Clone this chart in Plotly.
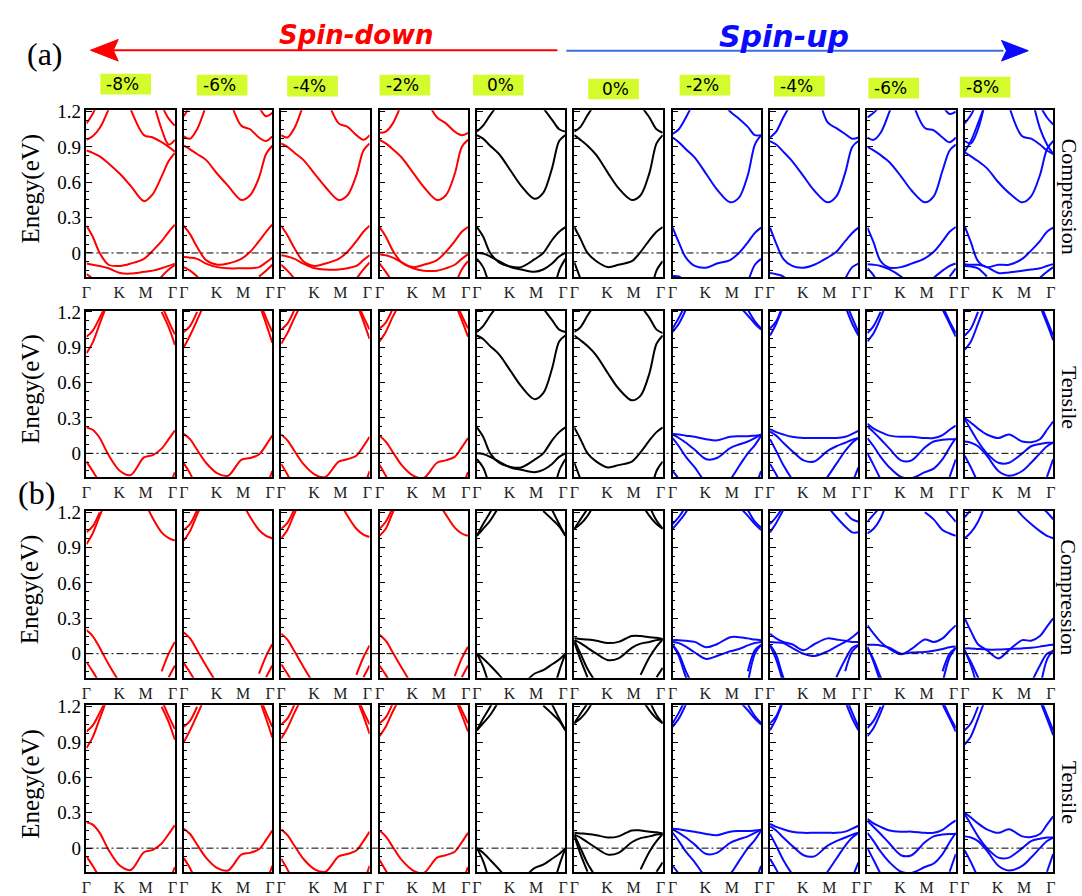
import plotly.graph_objects as go

N = None
W, H = 1082, 896

# ---------------- data ----------------
k_grid = [0.0, 0.07, 0.15, 0.25, 0.38, 0.5, 0.65, 0.75, 0.85, 0.93, 1.0]
k_tick_vals = [0.0, 0.37, 0.67, 0.975]
k_tick_text = ["Γ", "K", "M", "Γ"]
energy_tick_vals = [0, 0.3, 0.6, 0.9, 1.2]
energy_tick_text = ["0", "0.3", "0.6", "0.9", "1.2"]
strain_labels = ["-8%", "-6%", "-4%", "-2%", "0%", "0%", "-2%", "-4%", "-6%", "-8%"]
row_side_labels = ["Compression", "Tensile", "Compression", "Tensile"]
spin_titles = ["Spin-down", "Spin-up"]
panel_labels = ["(a)", "(b)"]

# (a) compression
r1c1 = [[0.87, 0.85, 0.82, 0.76, 0.67, 0.57, 0.44, 0.50, 0.65, 0.78, 0.85],
        [1.10, 1.18, 1.32, 1.55, N, N, N, N, N, N, N],
        [0.96, 0.99, 1.06, 1.22, 1.5, N, N, N, N, N, N],
        [N, N, N, N, 1.5, 1.22, 1.0, 0.98, 0.94, 0.9, 0.86],
        [N, N, N, N, N, N, N, 1.3, 1.05, 0.92, 0.96],
        [N, N, N, N, N, N, N, N, 1.25, 1.14, 1.08],
        [0.23, 0.14, 0.0, -0.10, -0.11, -0.09, -0.05, 0.02, 0.10, 0.18, 0.24],
        [-0.09, -0.10, -0.11, -0.13, -0.17, -0.175, -0.16, -0.15, -0.13, -0.11, -0.09],
        [-0.18, -0.22, -0.35, N, N, N, N, -0.3, -0.2, -0.14, -0.10]]
r1c2 = [[0.91, 0.88, 0.84, 0.79, 0.67, 0.57, 0.45, 0.49, 0.64, 0.84, 0.91],
        [0.99, 0.97, 1.05, 1.25, N, N, N, N, N, N, N],
        [1.16, 1.25, N, N, N, N, N, N, N, N, N],
        [N, N, N, N, N, 1.35, 1.08, 1.05, 0.98, 0.95, 0.99],
        [N, N, N, N, N, N, N, N, 1.24, 1.16, 1.19],
        [0.23, 0.16, 0.05, -0.06, -0.10, -0.09, -0.05, 0.01, 0.10, 0.18, 0.24],
        [-0.035, -0.04, -0.05, -0.09, -0.12, -0.13, -0.13, -0.13, -0.12, -0.08, -0.04],
        [-0.12, -0.15, -0.2, -0.3, N, N, N, N, -0.2, -0.15, -0.1]]
r1c3 = [[0.93, 0.90, 0.85, 0.79, 0.67, 0.56, 0.45, 0.49, 0.66, 0.87, 0.93],
        [1.0, 0.98, 1.06, 1.26, N, N, N, N, N, N, N],
        [N, N, N, N, N, 1.35, 1.1, 1.07, 1.0, 0.96, 1.0],
        [0.23, 0.15, 0.04, -0.07, -0.11, -0.09, -0.05, 0.01, 0.10, 0.18, 0.23],
        [-0.02, -0.03, -0.05, -0.09, -0.13, -0.14, -0.14, -0.13, -0.11, -0.06, -0.02],
        [-0.1, -0.15, -0.22, -0.35, N, N, N, N, -0.22, -0.14, -0.08]]
r1c4 = [[0.96, 0.93, 0.88, 0.81, 0.68, 0.56, 0.45, 0.49, 0.67, 0.9, 0.96],
        [1.02, 1.03, 1.1, 1.27, N, N, N, N, N, N, N],
        [N, N, N, N, N, 1.35, 1.15, 1.1, 1.03, 1.0, 1.02],
        [0.22, 0.14, 0.02, -0.08, -0.12, -0.1, -0.06, 0.01, 0.10, 0.18, 0.22],
        [-0.01, -0.02, -0.04, -0.08, -0.13, -0.15, -0.15, -0.13, -0.1, -0.05, -0.01],
        [-0.09, -0.16, -0.25, N, N, N, N, N, -0.28, -0.14, -0.07]]
r1c5 = [[1.0, 0.97, 0.91, 0.84, 0.70, 0.57, 0.46, 0.51, 0.72, 0.95, 1.0],
        [1.03, 1.08, 1.17, 1.27, N, N, N, N, N, N, N],
        [N, N, N, N, N, N, N, 1.23, 1.13, 1.05, 1.03],
        [0.22, 0.14, 0.0, -0.08, -0.115, -0.12, -0.055, 0.0, 0.11, 0.18, 0.22],
        [0.0, -0.005, -0.03, -0.07, -0.12, -0.14, -0.16, -0.14, -0.09, -0.03, 0.0],
        [-0.05, -0.12, -0.3, N, N, N, N, N, -0.4, -0.15, -0.05]]
r1c6 = [[1.0, 0.96, 0.91, 0.83, 0.68, 0.55, 0.45, 0.49, 0.68, 0.93, 1.0],
        [1.03, 1.07, 1.17, 1.28, N, N, N, N, N, N, N],
        [N, N, N, N, N, N, N, 1.25, 1.15, 1.05, 1.02],
        [0.22, 0.12, 0.0, -0.07, -0.12, -0.10, -0.07, 0.01, 0.11, 0.18, 0.22],
        [-0.08, -0.22, -0.4, N, N, N, N, N, -0.4, -0.15, -0.07]]
r1c7 = [[0.98, 0.94, 0.88, 0.81, 0.67, 0.54, 0.43, 0.47, 0.66, 0.92, 1.0],
        [1.01, 1.05, 1.15, 1.3, N, N, N, N, N, N, N],
        [N, N, N, N, N, 1.35, 1.2, 1.14, 1.07, 1.0, 1.0],
        [0.215, 0.09, -0.04, -0.11, -0.125, -0.09, -0.06, 0.0, 0.09, 0.17, 0.215],
        [-0.195, -0.2, -0.25, N, N, N, N, N, -0.25, -0.1, -0.05]]
r1c8 = [[0.95, 0.92, 0.86, 0.78, 0.65, 0.53, 0.43, 0.48, 0.68, 0.9, 0.95],
        [0.98, 1.03, 1.15, 1.28, N, N, N, N, N, N, N],
        [N, N, N, N, N, 1.5, 1.11, 1.06, 1.01, 0.97, 0.98],
        [0.215, 0.08, -0.05, -0.11, -0.125, -0.10, -0.04, 0.01, 0.10, 0.17, 0.215],
        [-0.17, -0.18, -0.2, -0.3, N, N, N, N, -0.22, -0.12, -0.09]]
r1c9 = [[0.9, 0.87, 0.83, 0.77, 0.65, 0.53, 0.43, 0.48, 0.70, 0.87, 0.92],
        [0.98, 0.96, 1.02, 1.2, 1.45, N, N, N, N, N, N],
        [1.15, 1.19, 1.25, N, N, N, N, N, N, N, N],
        [N, N, N, N, N, 1.3, 1.06, 1.04, 0.98, 0.94, 0.98],
        [N, N, N, N, N, N, N, N, 1.25, 1.18, 1.2],
        [0.215, 0.09, -0.07, -0.125, -0.12, -0.09, -0.045, 0.01, 0.10, 0.18, 0.22],
        [-0.095, -0.10, -0.11, -0.14, -0.2, -0.28, N, -0.21, -0.15, -0.11, -0.09],
        [-0.13, -0.19, -0.3, N, N, N, N, N, N, -0.2, -0.13]]
r1c10 = [[0.855, 0.82, 0.78, 0.72, 0.60, 0.51, 0.43, 0.48, 0.66, 0.88, 0.95],
         [0.95, 0.93, 1.05, 1.35, N, N, N, N, N, N, N],
         [1.1, 1.17, 1.3, N, N, N, N, N, N, N, N],
         [0.86, 0.95, 1.1, 1.3, N, N, N, N, N, N, N],
         [N, N, N, N, 1.7, 1.25, 0.99, 0.97, 0.92, 0.87, 0.84],
         [N, N, N, N, N, N, N, 1.35, 1.06, 0.92, 0.84],
         [N, N, N, N, N, N, N, N, 1.25, 1.15, 1.09],
         [0.225, 0.09, -0.07, -0.12, -0.1, -0.1, -0.05, 0.02, 0.10, 0.18, 0.215],
         [-0.095, -0.1, -0.1, -0.12, -0.17, -0.165, -0.15, -0.14, -0.13, -0.11, -0.095],
         [-0.11, -0.115, -0.13, -0.2, N, N, N, N, -0.21, -0.16, -0.12]]

# (a) tensile
r2c1 = [[0.85, 0.94, 1.1, 1.3, N, N, N, N, N, N, N],
        [0.99, 1.04, 1.15, 1.3, N, N, N, N, N, N, N],
        [N, N, N, N, N, N, N, N, 1.2, 1.07, 0.92],
        [N, N, N, N, N, N, N, N, 1.26, 1.12, 1.01],
        [0.22, 0.2, 0.13, -0.015, -0.15, -0.185, -0.035, -0.015, 0.04, 0.12, 0.195],
        [-0.07, -0.15, -0.25, N, N, N, N, N, N, -0.3, -0.16]]
r2c2 = [[0.9, 1.0, 1.13, 1.3, N, N, N, N, N, N, N],
        [1.03, 1.08, 1.2, N, N, N, N, N, N, N, N],
        [N, N, N, N, N, N, N, N, 1.27, 1.1, 0.94],
        [N, N, N, N, N, N, N, N, 1.3, 1.15, 1.03],
        [0.165, 0.12, 0.03, -0.08, -0.17, -0.19, -0.055, -0.04, -0.01, 0.07, 0.15],
        [-0.085, -0.17, -0.3, N, N, N, N, N, N, -0.3, -0.15]]
r2c3 = [[0.93, 1.02, 1.15, 1.3, N, N, N, N, N, N, N],
        [1.05, 1.1, 1.22, N, N, N, N, N, N, N, N],
        [N, N, N, N, N, N, N, N, 1.28, 1.12, 0.97],
        [N, N, N, N, N, N, N, N, 1.3, 1.16, 1.05],
        [0.16, 0.11, 0.02, -0.09, -0.18, -0.2, -0.07, -0.05, -0.02, 0.06, 0.14],
        [-0.09, -0.18, -0.3, N, N, N, N, N, N, -0.3, -0.15]]
r2c4 = [[0.95, 1.03, 1.16, 1.3, N, N, N, N, N, N, N],
        [1.06, 1.11, 1.23, N, N, N, N, N, N, N, N],
        [N, N, N, N, N, N, N, N, 1.28, 1.13, 0.99],
        [N, N, N, N, N, N, N, N, 1.3, 1.17, 1.06],
        [0.15, 0.1, 0.01, -0.1, -0.19, -0.21, -0.08, -0.06, -0.03, 0.05, 0.13],
        [-0.1, -0.19, -0.3, N, N, N, N, N, N, -0.3, -0.16]]
r2c5 = r1c5
r2c6 = r1c6
r2c7 = [[1.03, 1.1, 1.22, 1.4, N, N, N, N, N, N, N],
        [1.06, 1.15, 1.27, N, N, N, N, N, N, N, N],
        [N, N, N, N, N, N, N, 1.25, 1.17, 1.1, 1.05],
        [N, N, N, N, N, N, N, N, 1.22, 1.12, 1.06],
        [0.165, 0.16, 0.15, 0.14, 0.12, 0.11, 0.14, 0.145, 0.145, 0.15, 0.155],
        [0.16, 0.13, 0.09, 0.03, -0.05, -0.04, 0.045, 0.075, 0.1, 0.13, 0.16],
        [0.13, 0.06, -0.03, -0.12, -0.25, -0.3, -0.22, -0.11, 0.0, 0.07, 0.15],
        [-0.15, -0.22, -0.35, N, N, N, N, N, N, -0.3, -0.15]]
r2c8 = [[1.0, 1.1, 1.25, N, N, N, N, N, N, N, N],
        [1.06, 1.12, 1.27, N, N, N, N, N, N, N, N],
        [N, N, N, N, N, N, N, N, 1.25, 1.1, 1.0],
        [N, N, N, N, N, N, N, N, 1.3, 1.15, 1.03],
        [0.205, 0.18, 0.16, 0.14, 0.13, 0.13, 0.13, 0.13, 0.14, 0.165, 0.19],
        [0.185, 0.15, 0.09, 0.02, -0.06, -0.07, 0.02, 0.06, 0.09, 0.115, 0.13],
        [0.12, 0.02, -0.1, -0.22, -0.35, -0.35, -0.2, -0.09, 0.02, 0.09, 0.13],
        [-0.09, -0.18, -0.3, N, N, N, N, N, N, -0.25, -0.12]]
r2c9 = [[0.95, 1.02, 1.15, 1.35, N, N, N, N, N, N, N],
        [1.02, 1.08, 1.2, N, N, N, N, N, N, N, N],
        [N, N, N, N, N, N, N, N, 1.22, 1.1, 0.99],
        [N, N, N, N, N, N, N, N, 1.25, 1.12, 1.02],
        [0.25, 0.21, 0.18, 0.15, 0.14, 0.14, 0.13, 0.13, 0.155, 0.2, 0.235],
        [0.23, 0.18, 0.12, 0.04, -0.06, -0.06, 0.05, 0.1, 0.115, 0.12, 0.12],
        [0.13, 0.06, -0.03, -0.12, -0.2, -0.21, -0.16, -0.13, -0.05, 0.05, 0.13],
        [0.0, -0.1, -0.22, N, N, N, N, N, N, -0.2, -0.05]]
r2c10 = [[0.88, 0.95, 1.1, 1.3, N, N, N, N, N, N, N],
         [1.0, 1.06, 1.2, N, N, N, N, N, N, N, N],
         [N, N, N, N, N, N, N, N, 1.25, 1.1, 0.96],
         [N, N, N, N, N, N, N, N, 1.28, 1.13, 1.0],
         [0.3, 0.26, 0.21, 0.16, 0.13, 0.16, 0.1, 0.095, 0.12, 0.2, 0.27],
         [0.29, 0.2, 0.1, 0.0, -0.08, -0.08, 0.0, 0.06, 0.08, 0.09, 0.09],
         [0.1, 0.09, 0.06, -0.02, -0.15, -0.19, -0.15, -0.08, 0.0, 0.06, 0.09],
         [-0.02, -0.12, -0.25, N, N, N, N, N, N, -0.2, -0.05]]

# (b) compression
r3c1 = [[0.93, 1.02, 1.17, 1.35, N, N, N, N, N, N, N],
        [1.03, 1.08, 1.2, N, N, N, N, N, N, N, N],
        [N, N, N, N, N, N, 1.3, 1.15, 1.03, 0.98, 0.96],
        [0.2, 0.15, 0.05, -0.09, -0.25, N, N, N, -0.15, 0.0, 0.1],
        [-0.07, -0.15, -0.25, N, N, N, N, N, N, -0.2, -0.1]]
r3c2 = [[0.96, 1.04, 1.18, 1.35, N, N, N, N, N, N, N],
        [1.05, 1.1, 1.22, N, N, N, N, N, N, N, N],
        [N, N, N, N, N, N, 1.3, 1.16, 1.05, 1.0, 0.98],
        [0.18, 0.13, 0.03, -0.1, -0.26, N, N, N, -0.17, -0.02, 0.08],
        [-0.08, -0.16, -0.26, N, N, N, N, N, N, -0.2, -0.1]]
r3c3 = [[0.98, 1.05, 1.19, 1.35, N, N, N, N, N, N, N],
        [1.06, 1.11, 1.23, N, N, N, N, N, N, N, N],
        [N, N, N, N, N, N, 1.3, 1.17, 1.06, 1.01, 0.99],
        [0.17, 0.12, 0.02, -0.11, -0.27, N, N, N, -0.18, -0.03, 0.07],
        [-0.09, -0.17, -0.27, N, N, N, N, N, N, -0.2, -0.1]]
r3c4 = [[1.0, 1.06, 1.2, 1.35, N, N, N, N, N, N, N],
        [1.06, 1.12, 1.24, N, N, N, N, N, N, N, N],
        [N, N, N, N, N, N, 1.3, 1.18, 1.07, 1.02, 1.0],
        [0.16, 0.11, 0.01, -0.12, -0.28, N, N, N, -0.19, -0.04, 0.06],
        [-0.1, -0.18, -0.28, N, N, N, N, N, N, -0.2, -0.1]]
r3c5 = [[1.0, 1.1, 1.2, 1.35, N, N, N, N, N, N, N],
        [1.0, 1.06, 1.13, 1.25, N, N, N, N, N, N, N],
        [N, N, N, N, N, N, N, 1.21, 1.14, 1.08, 1.0],
        [N, N, N, N, N, N, N, N, 1.22, 1.1, 1.0],
        [0.0, -0.04, -0.1, -0.18, -0.3, N, N, N, N, N, N],
        [0.0, -0.11, -0.3, N, N, N, N, N, N, N, N],
        [N, N, N, N, N, -0.28, -0.17, -0.14, -0.09, -0.05, 0.0],
        [N, N, N, N, N, N, N, N, -0.35, -0.15, 0.0]]
r3c6 = [[1.06, 1.14, 1.23, N, N, N, N, N, N, N, N],
        [1.06, 1.1, 1.17, 1.3, N, N, N, N, N, N, N],
        [N, N, N, N, N, N, N, 1.28, 1.17, 1.1, 1.06],
        [N, N, N, N, N, N, N, N, 1.25, 1.13, 1.06],
        [0.13, 0.125, 0.12, 0.11, 0.09, 0.1, 0.15, 0.15, 0.14, 0.135, 0.125],
        [0.115, 0.09, 0.05, 0.0, -0.055, -0.04, 0.05, 0.085, 0.1, 0.115, 0.125],
        [0.115, 0.0, -0.13, -0.25, N, N, N, -0.18, -0.03, 0.06, 0.12],
        [0.1, -0.05, -0.2, N, N, N, N, N, N, -0.2, -0.12]]
r3c7 = [[1.06, 1.12, 1.2, 1.35, N, N, N, N, N, N, N],
        [1.1, 1.16, 1.25, N, N, N, N, N, N, N, N],
        [N, N, N, N, N, N, N, 1.25, 1.17, 1.1, 1.05],
        [N, N, N, N, N, N, N, N, 1.22, 1.12, 1.07],
        [0.115, 0.115, 0.11, 0.1, 0.055, 0.08, 0.14, 0.14, 0.13, 0.12, 0.115],
        [0.1, 0.09, 0.06, 0.01, -0.045, -0.02, 0.02, 0.04, 0.07, 0.09, 0.1],
        [0.075, 0.0, -0.15, -0.3, N, N, N, N, -0.15, 0.03, 0.075],
        [0.075, -0.02, -0.2, -0.35, N, N, N, N, -0.25, 0.0, 0.075]]
r3c8 = [[1.03, 1.11, 1.22, N, N, N, N, N, N, N, N],
        [1.1, 1.16, 1.25, N, N, N, N, N, N, N, N],
        [N, N, N, N, N, N, 1.25, 1.16, 1.08, 1.03, 1.03],
        [N, N, N, N, N, N, N, N, 1.2, 1.14, 1.12],
        [0.17, 0.13, 0.1, 0.08, 0.03, 0.08, 0.13, 0.12, 0.11, 0.1, 0.1],
        [0.1, 0.095, 0.09, 0.05, 0.0, -0.02, 0.02, 0.06, 0.1, 0.14, 0.185],
        [0.075, -0.01, -0.2, -0.35, N, N, N, -0.2, -0.05, 0.05, 0.075],
        [0.07, -0.05, -0.25, N, N, N, N, N, -0.15, 0.02, 0.07]]
r3c9 = [[1.12, 1.18, 1.25, N, N, N, N, N, N, N, N],
        [1.02, 1.06, 1.15, 1.35, N, N, N, N, N, N, N],
        [N, N, N, N, N, N, 1.2, 1.14, 1.05, 1.02, 1.0],
        [N, N, N, N, N, N, N, N, 1.25, 1.18, 1.12],
        [0.24, 0.17, 0.1, 0.04, -0.005, 0.04, 0.12, 0.1, 0.13, 0.19, 0.24],
        [0.075, 0.075, 0.07, 0.05, 0.0, 0.01, 0.015, 0.025, 0.04, 0.055, 0.06],
        [0.045, -0.05, -0.2, -0.35, N, N, N, N, -0.15, 0.0, 0.05],
        [0.06, -0.07, -0.25, N, N, N, N, N, -0.25, -0.03, 0.05]]
r3c10 = [[1.16, 1.22, 1.3, N, N, N, N, N, N, N, N],
         [0.98, 1.03, 1.12, 1.3, N, N, N, N, N, N, N],
         [N, N, N, N, N, 1.3, 1.17, 1.1, 1.04, 1.0, 0.98],
         [N, N, N, N, N, N, N, N, 1.25, 1.2, 1.14],
         [0.3, 0.19, 0.08, 0.03, -0.04, 0.03, 0.115, 0.11, 0.15, 0.23, 0.3],
         [0.045, 0.045, 0.04, 0.035, 0.035, 0.04, 0.045, 0.05, 0.06, 0.07, 0.075],
         [0.02, -0.07, -0.2, -0.35, N, N, N, -0.25, -0.1, 0.0, 0.02],
         [0.03, -0.1, -0.3, N, N, N, N, N, -0.3, -0.05, 0.03]]

# (b) tensile (same band sets as the panels they repeat)
r4c1, r4c2, r4c3, r4c4 = r2c1, r2c2, r2c3, r2c4
r4c5, r4c6 = r3c5, r3c6
r4c7, r4c8, r4c9, r4c10 = r2c7, r2c8, r2c9, r2c10

panels = [
    [r1c1, r1c2, r1c3, r1c4, r1c5, r1c6, r1c7, r1c8, r1c9, r1c10],
    [r2c1, r2c2, r2c3, r2c4, r2c5, r2c6, r2c7, r2c8, r2c9, r2c10],
    [r3c1, r3c2, r3c3, r3c4, r3c5, r3c6, r3c7, r3c8, r3c9, r3c10],
    [r4c1, r4c2, r4c3, r4c4, r4c5, r4c6, r4c7, r4c8, r4c9, r4c10],
]
column_colors = ["#ff0000"] * 4 + ["#000000"] * 2 + ["#0a0aff"] * 4

# ---------------- layout geometry (pixels) ----------------
col_left = [82, 180, 278, 377, 475, 573, 672, 770, 868, 966]
panel_w = 89
row_top = [103, 307, 511, 709]
panel_h = 170
y_range = [-0.205, 1.212]

SERIF = "Liberation Serif, Times New Roman, serif"
SANS = "DejaVu Sans, sans-serif"


def px(x):
    return x / W


def py(y):
    return 1 - y / H


fig = go.Figure()
layout = {}
for r in range(4):
    for c in range(10):
        idx = r * 10 + c + 1
        suf = "" if idx == 1 else str(idx)
        for band in panels[r][c]:
            fig.add_trace(go.Scatter(
                x=k_grid, y=band, mode="lines",
                line=dict(color=column_colors[c], width=2, shape="spline", smoothing=0.9),
                xaxis="x" + suf, yaxis="y" + suf, showlegend=False,
                hoverinfo="skip", connectgaps=False))
        layout["xaxis" + suf] = dict(
            domain=[px(col_left[c]), px(col_left[c] + panel_w)], anchor="y" + suf,
            range=[0, 1], showgrid=False, zeroline=False, showline=True, mirror=True,
            linecolor="black", linewidth=1.5, ticks="", tickvals=k_tick_vals,
            ticktext=k_tick_text, ticklabelstandoff=0,
            tickfont=dict(family=SERIF, size=16, color="#222"), fixedrange=True)
        layout["yaxis" + suf] = dict(
            domain=[py(row_top[r] + panel_h), py(row_top[r])], anchor="x" + suf,
            range=y_range, showgrid=False, zeroline=False, showline=True, mirror=True,
            linecolor="black", linewidth=1.5, ticks="inside", ticklen=6, tickwidth=1,
            tickcolor="black", tickvals=energy_tick_vals, ticktext=energy_tick_text,
            showticklabels=(c == 0), tickfont=dict(family=SERIF, size=19, color="black"),
            minor=dict(ticks="inside", ticklen=3, tickwidth=1, tickcolor="black",
                       tick0=0, dtick=0.075, showgrid=False),
            fixedrange=True)

shapes = []
annotations = []
# Fermi level line per row
for r in range(4):
    yref = "y" if r == 0 else "y" + str(r * 10 + 1)
    shapes.append(dict(type="line", xref="paper", yref=yref, x0=px(82), x1=px(1056),
                       y0=0, y1=0, line=dict(color="black", width=1, dash="7px,3px,2px,3px")))

# strain labels
box_left = [96, 193, 284, 377, 471, 587, 679, 774, 869, 961]
box_top = [66, 67, 68, 67, 67, 71, 67, 68, 70, 69]
for i, lab in enumerate(strain_labels):
    x0, y0 = box_left[i], box_top[i]
    shapes.append(dict(type="rect", xref="paper", yref="paper", x0=px(x0), x1=px(x0 + 51),
                       y0=py(y0 + 21), y1=py(y0), fillcolor="#d4fc2c", line=dict(width=0)))
    annotations.append(dict(xref="paper", yref="paper", x=px(x0 + (4 if lab != "0%" else 12)),
                            y=py(y0 + 10), xanchor="left", yanchor="middle", text=lab,
                            showarrow=False, font=dict(family=SANS, size=17, color="black")))

# spin arrows
shapes.append(dict(type="line", xref="paper", yref="paper", x0=px(556), x1=px(108),
                   y0=py(42), y1=py(42), line=dict(color="#ff0000", width=2)))
shapes.append(dict(type="path", xref="paper", yref="paper",
                   path=f"M {px(86)},{py(42)} L {px(114)},{py(31)} L {px(109)},{py(42)} L {px(114)},{py(53)} Z",
                   fillcolor="#ff0000", line=dict(color="#ff0000", width=1)))
shapes.append(dict(type="line", xref="paper", yref="paper", x0=px(565), x1=px(1005),
                   y0=py(42.5), y1=py(42.5), line=dict(color="#3b6fd6", width=2)))
shapes.append(dict(type="path", xref="paper", yref="paper",
                   path=f"M {px(1030)},{py(42.5)} L {px(1003)},{py(32)} L {px(1008)},{py(42.5)} L {px(1003)},{py(53)} Z",
                   fillcolor="#0a0aff", line=dict(color="#0a0aff", width=1)))
annotations.append(dict(xref="paper", yref="paper", x=px(354), y=py(26), xanchor="center",
                        yanchor="middle", text="<b><i>" + spin_titles[0] + "</i></b>",
                        showarrow=False, font=dict(family=SANS, size=26, color="#ff0000")))
annotations.append(dict(xref="paper", yref="paper", x=px(784), y=py(28), xanchor="center",
                        yanchor="middle", text="<b><i>" + spin_titles[1] + "</i></b>",
                        showarrow=False, font=dict(family=SANS, size=30, color="#0a0aff")))

# panel labels
annotations.append(dict(xref="paper", yref="paper", x=px(40), y=py(46), xanchor="center",
                        yanchor="middle", text=panel_labels[0],
                        showarrow=False, font=dict(family=SERIF, size=32, color="black")))
annotations.append(dict(xref="paper", yref="paper", x=px(32), y=py(493), xanchor="center",
                        yanchor="middle", text=panel_labels[1],
                        showarrow=False, font=dict(family=SERIF, size=32, color="black")))

# y titles and side labels
for r in range(4):
    annotations.append(dict(xref="paper", yref="paper", x=px(26), y=py(row_top[r] + 80),
                            xanchor="center", yanchor="middle", text="Enegy(eV)",
                            textangle=-90, showarrow=False,
                            font=dict(family=SERIF, size=25, color="black")))
    annotations.append(dict(xref="paper", yref="paper", x=px(1071), y=py(row_top[r] + 88),
                            xanchor="center", yanchor="middle",
                            text=row_side_labels[r], textangle=90, showarrow=False,
                            font=dict(family=SERIF, size=22, color="black")))

fig.update_layout(width=W, height=H, margin=dict(l=0, r=0, t=0, b=0),
                  paper_bgcolor="white", plot_bgcolor="white",
                  shapes=shapes, annotations=annotations, **layout)

fig.write_html("out.html", include_plotlyjs=True, config={"displayModeBar": False},
               post_script="document.body.style.margin='0';document.body.style.overflow='hidden';")
